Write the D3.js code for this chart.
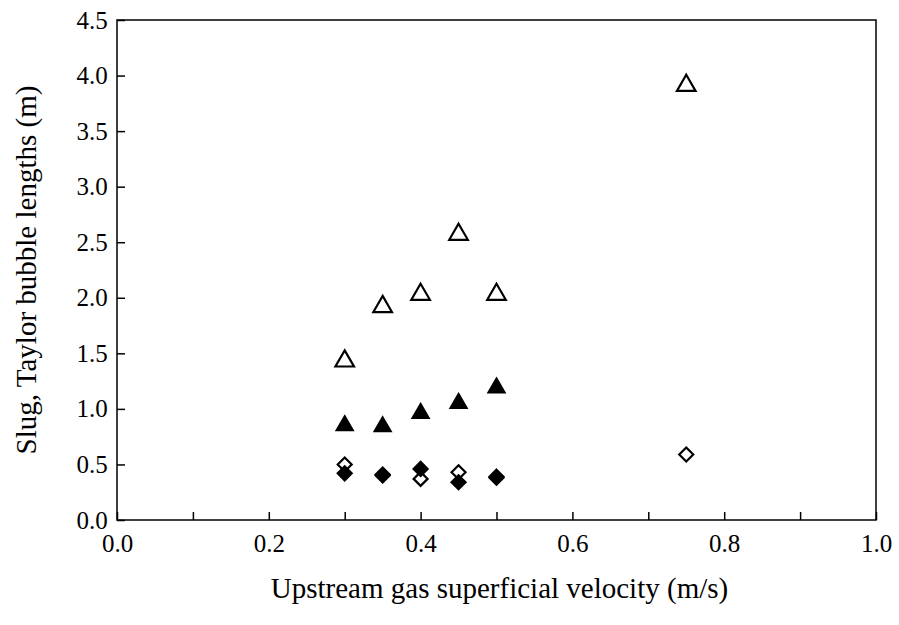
<!DOCTYPE html><html><head><script src="https://cdn.jsdelivr.net/npm/d3@7"></script>
<style>body{margin:0;background:#fff}text{font-family:"Liberation Serif","Times New Roman",serif}</style></head><body>
<svg id="c" width="899" height="625"></svg>
<script>
const xs=[0.3,0.35,0.4,0.45,0.5,0.75];
const taylorOpen=[1.43,1.92,2.03,2.57,2.03,3.91];
const xsF=[0.3,0.35,0.4,0.45,0.5];
const taylorFilled=[0.85,0.84,0.96,1.05,1.19];
const slugOpen=[0.50,0.41,0.37,0.43,0.38,0.59];
const slugFilled=[0.42,0.40,0.46,0.34,0.39];
const xTicks=[0,0.2,0.4,0.6,0.8,1.0];
const yTicks=[0,0.5,1,1.5,2,2.5,3,3.5,4,4.5];
const svg=d3.select("#c");
const L=117,R=876,T=20,B=520;
const x=d3.scaleLinear([0,1],[L,R]),y=d3.scaleLinear([0,4.5],[B,T]);
svg.append("rect").attr("x",L).attr("y",T).attr("width",R-L).attr("height",B-T).attr("fill","none").attr("stroke","#000").attr("stroke-width",1.5);
const gx=svg.append("g").attr("transform",`translate(0,${B})`).call(d3.axisBottom(x).tickValues(d3.range(0,1.01,0.1)).tickSizeInner(-8).tickSizeOuter(0).tickFormat(d=>xTicks.some(t=>Math.abs(t-d)<1e-6)?d.toFixed(1):""));
const gy=svg.append("g").attr("transform",`translate(${L},0)`).call(d3.axisLeft(y).tickValues(yTicks).tickSizeInner(-8).tickSizeOuter(0).tickFormat(d=>d.toFixed(1)));
[gx,gy].forEach(g=>{g.select(".domain").remove();g.selectAll("line").attr("stroke","#000").attr("stroke-width",1.5);g.selectAll("text").attr("font-size",25).attr("fill","#000").style("font-family","Liberation Serif");});
gx.selectAll("text").attr("dy","1.15em");gy.selectAll("text").attr("dx","-0.25em");
const triO=d3.symbol(d3.symbolTriangle,150)(),triF=d3.symbol(d3.symbolTriangle,110)();
const dia="M0,-7L7,0L0,7L-7,0Z";
function pts(X,Y,p,fill){svg.append("g").selectAll("path").data(X).join("path").attr("d",p).attr("transform",(d,i)=>`translate(${x(d)},${y(Y[i])})`).attr("fill",fill?"#000":"#fff").attr("stroke","#000").attr("stroke-width",2.2).attr("stroke-linejoin","miter");}
pts(xs,slugOpen,dia,false);pts(xsF,slugFilled,dia,true);
pts(xs,taylorOpen,triO,false);pts(xsF,taylorFilled,triF,true);
svg.append("text").attr("x",(L+R)/2+3).attr("y",598).attr("text-anchor","middle").attr("font-size",29).text("Upstream gas superficial velocity (m/s)");
svg.append("text").attr("transform",`translate(36,${(T+B)/2}) rotate(-90)`).attr("text-anchor","middle").attr("font-size",29).text("Slug, Taylor bubble lengths (m)");
</script></body></html>
